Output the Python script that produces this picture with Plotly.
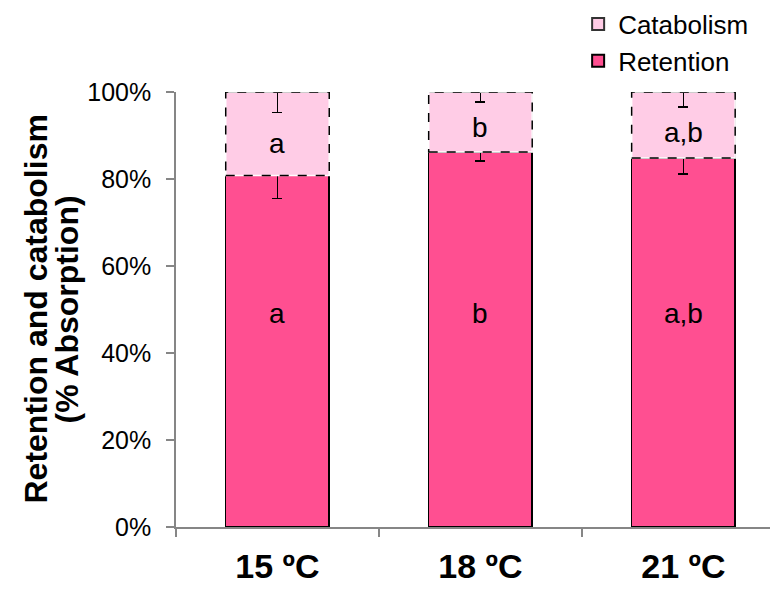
import plotly.graph_objects as go

categories = ["15 ºC", "18 ºC", "21 ºC"]
retention = [80.8, 86.2, 84.8]
catabolism = [19.2, 13.8, 15.2]
retention_err = [5.3, 2.1, 3.7]
catabolism_err = [4.7, 2.3, 3.5]
retention_labels = ["a", "b", "a,b"]
catabolism_labels = ["a", "b", "a,b"]
y_tickvals = [0, 20, 40, 60, 80, 100]
y_ticktext = ["0%", "20%", "40%", "60%", "80%", "100%"]
y_title_lines = ["Retention and catabolism", "(% Absorption)"]

RET_COLOR = "#FF4F91"
CAT_COLOR = "#FFCCE6"
BAR_W = 0.51
FONT = "Liberation Sans, Arial, sans-serif"

fig = go.Figure()
fig.add_trace(go.Bar(
    x=categories, y=retention, name="Retention", width=BAR_W,
    marker=dict(color=RET_COLOR, line=dict(color="black", width=1.5)),
    error_y=dict(type="data", symmetric=False, array=[0, 0, 0],
                 arrayminus=retention_err, color="black", thickness=1.5, width=5),
))
fig.add_trace(go.Bar(
    x=categories, y=catabolism, name="Catabolism", width=BAR_W,
    marker=dict(color=CAT_COLOR, line=dict(color="#333333", width=1)),
    error_y=dict(type="data", symmetric=False, array=[0, 0, 0],
                 arrayminus=catabolism_err, color="black", thickness=1.5, width=5),
))

shapes = []
annotations = []
for i, cat in enumerate(categories):
    x0, x1 = i - BAR_W / 2, i + BAR_W / 2
    y0, y1 = retention[i], retention[i] + catabolism[i]
    for color, dash in (("white", "solid"), ("black", "dash")):
        shapes.append(dict(type="rect", xref="x", yref="y", x0=x0, x1=x1, y0=y0, y1=y1,
                           line=dict(color=color, width=1.5, dash=dash),
                           fillcolor="rgba(0,0,0,0)", layer="above"))
    annotations.append(dict(x=cat, y=49, xref="x", yref="y", text=retention_labels[i],
                            showarrow=False, font=dict(family=FONT, size=28, color="black")))
    annotations.append(dict(x=cat, y=(y0 + y1 - catabolism_err[i]) / 2, xref="x", yref="y",
                            text=catabolism_labels[i], showarrow=False,
                            font=dict(family=FONT, size=28, color="black")))

# y-axis title as two tightly spaced rotated lines
for line_text, shift in zip(y_title_lines, (-141, -110)):
    annotations.append(dict(x=0, y=0.5, xref="paper", yref="paper", text=line_text,
                            textangle=-90, showarrow=False, xanchor="center", yanchor="middle",
                            xshift=shift,
                            font=dict(family=FONT, size=32, color="black", weight="bold")))

fig.update_layout(
    barmode="stack",
    width=770, height=581,
    margin=dict(l=168, r=0, t=84, b=62, autoexpand=False),
    plot_bgcolor="white", paper_bgcolor="white",
    font=dict(family=FONT, color="black"),
    shapes=shapes, annotations=annotations,
    legend=dict(x=0.668, xref="paper", y=1.21, yref="paper", xanchor="left",
                yanchor="top", traceorder="reversed",
                font=dict(family=FONT, size=26, color="black"), bgcolor="rgba(0,0,0,0)",
                itemsizing="constant", tracegroupgap=0),
    xaxis=dict(range=[-0.5, 2.466], showline=True, linecolor="#868686", linewidth=1.5,
               ticks="outside", tickson="boundaries", ticklen=8, tickcolor="#868686",
               tickwidth=1.5, ticklabelstandoff=8,
               tickfont=dict(family=FONT, size=34, color="black", weight="bold"),
               showgrid=False, zeroline=False),
    yaxis=dict(range=[0, 100], tickvals=y_tickvals, ticktext=y_ticktext, showline=True,
               linecolor="#868686", linewidth=1.5, ticks="outside", ticklen=8,
               tickcolor="#868686", tickwidth=1.5, ticklabelstandoff=10,
               tickfont=dict(family=FONT, size=25, color="black"),
               showgrid=False, zeroline=False),
)

fig.write_html("out.html")
